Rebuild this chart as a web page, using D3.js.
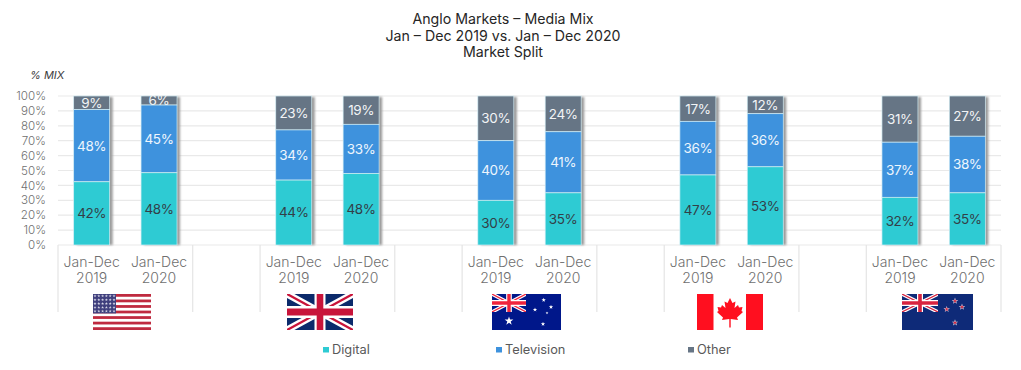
<!DOCTYPE html>
<html>
<head>
<meta charset="utf-8">
<script src="https://cdn.jsdelivr.net/npm/d3@7"></script>
<style>
  body { margin: 0; background: #fff; }
  text { font-family: "Inter", "Noto Sans", sans-serif; }
</style>
</head>
<body>
<svg id="chart" width="1021" height="370"></svg>
<script>
const titleLines = ["Anglo Markets – Media Mix", "Jan – Dec 2019 vs. Jan – Dec 2020", "Market Split"];
const markets = ["US", "UK", "AU", "CA", "NZ"];
const periods = ["Jan-Dec 2019", "Jan-Dec 2020"];
const seriesNames = ["Digital", "Television", "Other"];
const seriesColors = ["#2ecbd3", "#3e92dd", "#667585"];
const labelColors = ["#333f48", "#eef6fd", "#f2f4f6"];

// one value per bar: US 2019, US 2020, UK 2019, ...
const digital = [42, 48, 44, 48, 30, 35, 47, 53, 32, 35];
const television = [48, 45, 34, 33, 40, 41, 36, 36, 37, 38];
const other = [9, 6, 23, 19, 30, 24, 17, 12, 31, 27];

const yTicks = [0, 10, 20, 30, 40, 50, 60, 70, 80, 90, 100];

const svg = d3.select("#chart");
const margin = { top: 96, right: 20, bottom: 125, left: 58 };
const width = 1021 - margin.left - margin.right;
const height = 370 - margin.top - margin.bottom;
const g = svg.append("g").attr("transform", `translate(${margin.left}, ${margin.top})`);

// Bars table
const bars = digital.map((d, i) => ({
    key: `${markets[Math.floor(i / 2)]}|${periods[i % 2]}`,
    market: markets[Math.floor(i / 2)],
    period: periods[i % 2],
    Digital: d,
    Television: television[i],
    Other: other[i]
}));

// Every market takes two slots and one empty slot after it
const slots = [];
markets.forEach((m, i) => {
    periods.forEach(p => slots.push(`${m}|${p}`));
    if (i < markets.length - 1) slots.push(`gap${i}`);
});
const x = d3.scaleBand().domain(slots).range([0, width]).paddingInner(0).paddingOuter(0);
const barWidth = 36;
const barX = key => x(key) + (x.bandwidth() - barWidth) / 2;

const y = d3.scaleLinear().domain([0, 1]).range([height, 0]);

const stacked = d3.stack().keys(seriesNames).offset(d3.stackOffsetExpand)(bars);

// Title
svg.append("g").selectAll("text").data(titleLines).join("text")
    .attr("x", 503)
    .attr("y", (d, i) => 24 + i * 16.5)
    .attr("text-anchor", "middle")
    .attr("font-size", 14.2)
    .attr("fill", "#262626")
    .text(d => d);

svg.append("text")
    .attr("x", 30).attr("y", 79)
    .attr("font-size", 11)
    .attr("font-style", "italic")
    .attr("fill", "#404040")
    .text("% MIX");

// Grid and y axis labels
g.selectAll(".grid").data(yTicks).join("line")
    .attr("class", "grid")
    .attr("x1", 0).attr("x2", width)
    .attr("y1", d => y(d / 100)).attr("y2", d => y(d / 100))
    .attr("stroke", "#e9e9e9")
    .attr("stroke-width", 1.2);

g.selectAll(".ytick").data(yTicks).join("text")
    .attr("class", "ytick")
    .attr("x", -12)
    .attr("y", d => y(d / 100))
    .attr("dy", "0.36em")
    .attr("text-anchor", "end")
    .attr("font-size", 11.6)
    .attr("font-weight", 300)
    .attr("fill", "#6f6f6f")
    .text(d => `${d}%`);

// Separators under the axis, on the outer edges of each market
markets.forEach(m => {
    const left = x(`${m}|${periods[0]}`);
    [left, left + 2 * x.bandwidth()].forEach(px => {
        g.append("line")
            .attr("x1", px).attr("x2", px)
            .attr("y1", height).attr("y2", height + 67)
            .attr("stroke", "#e4e4e4")
            .attr("stroke-width", 1.2);
    });
});

// Bar shadow
const defs = svg.append("defs");
defs.append("filter").attr("id", "soft")
    .append("feGaussianBlur").attr("stdDeviation", 0.9);
g.selectAll(".shadow").data(bars).join("rect")
    .attr("class", "shadow")
    .attr("x", d => barX(d.key) + 3)
    .attr("y", y(1) + 1)
    .attr("width", barWidth)
    .attr("height", height - 1)
    .attr("fill", "#9a9a9a")
    .attr("filter", "url(#soft)");

// Stacks are drawn from the top down, so a lower segment covers the label above it
[...stacked].reverse().forEach(layer => {
    const idx = seriesNames.indexOf(layer.key);
    const cg = g.append("g");
    cg.selectAll("rect").data(layer).join("rect")
        .attr("x", d => barX(d.data.key))
        .attr("y", d => y(d[1]))
        .attr("width", barWidth)
        .attr("height", d => y(d[0]) - y(d[1]))
        .attr("fill", seriesColors[idx])
        .attr("stroke", "#d4eef5")
        .attr("stroke-width", 0.7);
    cg.selectAll("text").data(layer).join("text")
        .attr("x", d => barX(d.data.key) + barWidth / 2)
        .attr("y", d => (y(d[0]) + y(d[1])) / 2)
        .attr("dy", "0.36em")
        .attr("text-anchor", "middle")
        .attr("font-size", 13.5)
        .attr("letter-spacing", -0.4)
        .attr("fill", labelColors[idx])
        .text(d => `${d.data[layer.key]}%`);
});

// Category labels
const catLabels = g.selectAll(".cat").data(bars).join("text")
    .attr("class", "cat")
    .attr("text-anchor", "middle")
    .attr("font-size", 14)
    .attr("font-weight", 300)
    .attr("fill", "#6f6f6f");
catLabels.append("tspan")
    .attr("x", d => x(d.key) + x.bandwidth() / 2)
    .attr("y", height + 22)
    .text(d => d.period.split(" ")[0]);
catLabels.append("tspan")
    .attr("x", d => x(d.key) + x.bandwidth() / 2)
    .attr("y", height + 38)
    .text(d => d.period.split(" ")[1]);

// Flags, each one drawn in its own small coordinate system
function flagBox(px, py, w, h, vw, vh) {
    return svg.append("svg")
        .attr("x", px).attr("y", py)
        .attr("width", w).attr("height", h)
        .attr("viewBox", `0 0 ${vw} ${vh}`)
        .attr("preserveAspectRatio", "none");
}
function box(f, x0, y0, w, h, fill) {
    f.append("rect").attr("x", x0).attr("y", y0).attr("width", w).attr("height", h).attr("fill", fill);
}
function star(f, cx, cy, size, fill) {
    f.append("path")
        .attr("d", d3.symbol().type(d3.symbolStar).size(size)())
        .attr("transform", `translate(${cx},${cy})`)
        .attr("fill", fill);
}
// Union Jack in a 60x30 box
function unionJack(f, navy, red) {
    box(f, 0, 0, 60, 30, navy);
    f.append("path").attr("d", "M0,0L60,30M60,0L0,30").attr("stroke", "#fff").attr("stroke-width", 6);
    f.append("path").attr("d", "M0,0L60,30M60,0L0,30").attr("stroke", red).attr("stroke-width", 2);
    f.append("path").attr("d", "M30,0V30M0,15H60").attr("stroke", "#fff").attr("stroke-width", 10);
    f.append("path").attr("d", "M30,0V30M0,15H60").attr("stroke", red).attr("stroke-width", 6);
}

// US
const us = flagBox(93, 294, 58, 36, 58, 36);
box(us, 0, 0, 58, 36, "#fff");
d3.range(7).forEach(i => box(us, 0, i * 36 / 6.5, 58, 36 / 13, "#bf2a3f"));
box(us, 0, 0, 23, 19.4, "#3f3f7d");
d3.range(5).forEach(r => d3.range(6).forEach(c => star(us, 2 + c * 3.8, 2 + r * 3.8, 3, "#d8d8e8")));

// UK
const uk = flagBox(287, 294, 66, 36, 60, 30);
unionJack(uk, "#0b2a6b", "#c8143a");

// Australia
const au = flagBox(492, 294, 69, 36, 69, 36);
box(au, 0, 0, 69, 36, "#00178a");
const auJack = au.append("svg").attr("width", 34).attr("height", 18).attr("viewBox", "0 0 60 30").attr("preserveAspectRatio", "none");
unionJack(auJack, "#00178a", "#f0233c");
star(au, 17, 27, 24, "#fff");
star(au, 51.7, 6, 6, "#fff");
star(au, 43, 15.7, 6, "#fff");
star(au, 59, 13, 6, "#fff");
star(au, 55, 19, 2.5, "#fff");
star(au, 51, 30, 6, "#fff");

// Canada
const ca = flagBox(697, 294, 66, 36, 66, 36);
box(ca, 0, 0, 66, 36, "#fff");
box(ca, 0, 0, 16.5, 36, "#ff0f1f");
box(ca, 49, 0, 17, 36, "#ff0f1f");
ca.append("path")
    .attr("d", "M33,4L35.5,9L38.5,7.5L37.5,14L41,11L42,13.5L45.5,13L44.5,17L46,18L40,23.5L41,26L33.7,25V33.5H32.3V25L25,26L26,23.5L20,18L21.5,17L20.5,13L24,13.5L25,11L28.5,14L27.5,7.5L30.5,9Z")
    .attr("fill", "#ff0f1f");

// New Zealand
const nz = flagBox(902, 294, 71, 36, 71, 36);
box(nz, 0, 0, 71, 36, "#0e2a78");
const nzJack = nz.append("svg").attr("width", 36).attr("height", 18).attr("viewBox", "0 0 60 30").attr("preserveAspectRatio", "none");
unionJack(nzJack, "#0e2a78", "#d8233f");
[[53, 7], [44.7, 15.3], [60, 13], [53, 28.7]].forEach(p => {
    star(nz, p[0], p[1], 13, "#dfe3f0");
    star(nz, p[0], p[1], 6, "#cf2a45");
});

// Legend
const legendX = [323, 496, 688];
const legend = svg.append("g").selectAll("g").data(seriesNames).join("g")
    .attr("transform", (d, i) => `translate(${legendX[i]}, 347)`);
legend.append("rect")
    .attr("width", 6).attr("height", 5.5)
    .attr("fill", (d, i) => seriesColors[i]);
legend.append("text")
    .attr("x", 9).attr("y", 2)
    .attr("dy", "0.36em")
    .attr("font-size", 12.8)
    .attr("fill", "#595959")
    .text(d => d);
</script>
</body>
</html>
